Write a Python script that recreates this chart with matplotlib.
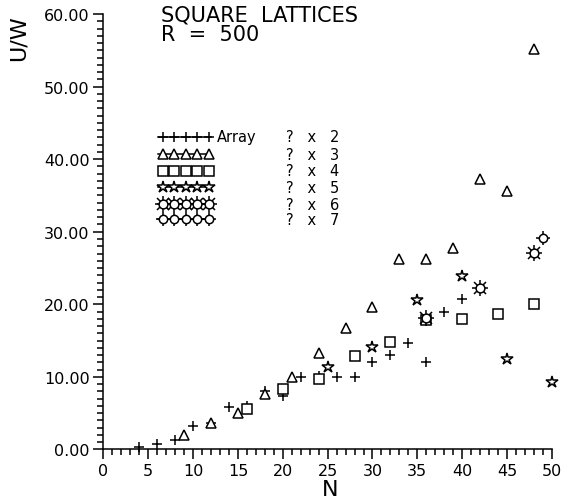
import numpy as np
import matplotlib.pyplot as plt
from matplotlib.ticker import MultipleLocator, FormatStrFormatter

plt.rcParams["font.family"] = ["DejaVu Sans"]

# array width 2 .. 7 (N = width x length)
n2 = [4, 6, 8, 10, 12, 14, 16, 18, 20, 22, 24, 26, 28, 30, 32, 34, 36, 38, 40]
u2 = [0.4, 0.8, 1.3, 3.2, 3.7, 5.8, 6.0, 8.1, 7.4, 10.0, 10.1, 10.0, 10.0,
      12.1, 13.0, 14.7, 12.0, 18.9, 20.7]
n3 = [9, 12, 15, 18, 21, 24, 27, 30, 33, 36, 39, 42, 45, 48]
u3 = [2.0, 3.6, 5.0, 7.6, 10.0, 13.3, 16.7, 19.7, 26.3, 26.3, 27.7, 37.2,
      35.6, 55.2]
n4 = [16, 20, 24, 28, 32, 36, 40, 44, 48]
u4 = [5.6, 8.4, 9.7, 12.9, 14.8, 17.9, 18.0, 18.6, 20.0]
n5 = [25, 30, 35, 40, 45, 50]
u5 = [11.3, 14.1, 20.6, 23.9, 12.4, 9.3]
n6 = [36, 42, 48]
u6 = [18.1, 22.2, 27.1]
n7 = [49]
u7 = [29.2]

legend_rows = ["2", "3", "4", "5", "6", "7"]
legend_y = [43.1, 40.7, 38.4, 36.1, 33.8, 31.7]

LW = 1.1
K = "black"


def plus(ax, x, y, ms=7.5, **kw):
    ax.plot(x, y, ls="none", marker="+", ms=ms, mew=LW, color=K,
            clip_on=False, **kw)


def tri(ax, x, y, ms=6.5, **kw):
    ax.plot(x, y, ls="none", marker="^", ms=ms, mew=LW, mfc="white",
            mec=K, clip_on=False, **kw)


def square(ax, x, y, ms=6.5, **kw):
    ax.plot(x, y, ls="none", marker="s", ms=ms, mew=LW, mfc="white",
            mec=K, clip_on=False, **kw)


def star(ax, x, y, ms=9, **kw):
    ax.plot(x, y, ls="none", marker="*", ms=ms, mew=LW, mfc="white",
            mec=K, clip_on=False, **kw)


def sun(ax, x, y, ms=11.5):
    ax.plot(x, y, ls="none", marker="+", ms=ms, mew=LW, color=K, clip_on=False)
    ax.plot(x, y, ls="none", marker="x", ms=ms * 0.75, mew=LW, color=K,
            clip_on=False)
    ax.plot(x, y, ls="none", marker="o", ms=ms * 0.55, mew=LW, mfc="white",
            mec=K, clip_on=False)


def ring(ax, x, y, ms=10):
    ax.plot(x, y, ls="none", marker="+", ms=ms, mew=LW, color=K, clip_on=False)
    ax.plot(x, y, ls="none", marker="o", ms=ms * 0.6, mew=LW, mfc="white",
            mec=K, clip_on=False)


fig = plt.figure(figsize=(5.62, 5.02), dpi=100)
ax = fig.add_axes([0.184, 0.1026, 0.798, 0.8675])

plus(ax, n2, u2)
tri(ax, n3, u3)
square(ax, n4, u4)
star(ax, n5, u5)
sun(ax, n6, u6)
ring(ax, n7, u7)

# legend block drawn by hand
lx = np.linspace(6.64, 11.77, 5)
drawers = [plus, tri, square, star, sun, ring]
for i, (draw, yy) in enumerate(zip(drawers, legend_y)):
    if draw is not square:
        ax.plot([6.1, 12.0], [yy, yy], color=K, lw=LW)
    draw(ax, lx, [yy] * 5)
    ax.text(20.4, yy, "?   x   " + legend_rows[i], fontsize=10.5,
            va="center", ha="left")
ax.text(12.6, legend_y[0], "Array", fontsize=10.5, va="center", ha="left")

ax.set_xlim(0, 50)
ax.set_ylim(0, 60)
ax.spines["top"].set_visible(False)
ax.spines["right"].set_visible(False)
for s in ("left", "bottom"):
    ax.spines[s].set_linewidth(LW)

ax.xaxis.set_major_locator(MultipleLocator(5))
ax.xaxis.set_minor_locator(MultipleLocator(1))
ax.yaxis.set_major_locator(MultipleLocator(10))
ax.yaxis.set_minor_locator(MultipleLocator(1))
ax.yaxis.set_major_formatter(FormatStrFormatter("%.2f"))
ax.tick_params(which="major", length=7, width=LW, labelsize=11.5, pad=3)
ax.tick_params(which="minor", length=4.5, width=LW)

ax.text(6.4, 61.3, "SQUARE  LATTICES\nR  =  500", fontsize=15,
        va="top", ha="left", linespacing=0.95, clip_on=False)
fig.text(0.034, 0.925, "U/W", rotation=90, fontsize=16,
         ha="center", va="center")
fig.text(0.587, 0.024, "N", fontsize=16, ha="center", va="center")

fig.savefig("out.png", dpi=100)
